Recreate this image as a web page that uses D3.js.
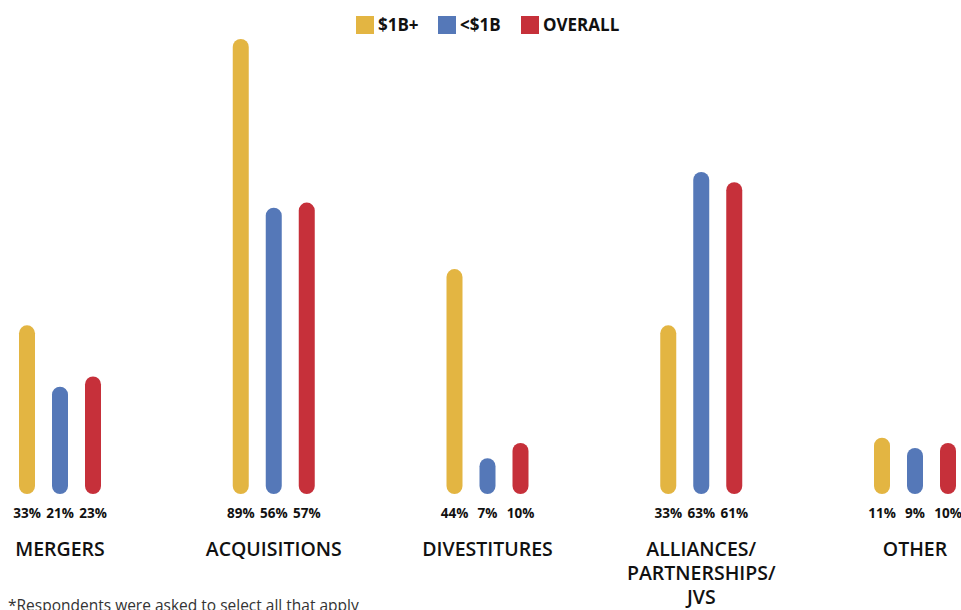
<!DOCTYPE html>
<html>
<head>
<meta charset="utf-8">
<script src="https://cdn.jsdelivr.net/npm/d3@7"></script>
<style>
  body { margin: 0; background: #fff; }
  svg { display: block; font-family: "Open Sans", "Noto Sans", sans-serif; }
</style>
</head>
<body>
<div id="chart"></div>
<script>
var categories = ["MERGERS", "ACQUISITIONS", "DIVESTITURES", "ALLIANCES/ PARTNERSHIPS/ JVS", "OTHER"];
var seriesNames = ["$1B+", "<$1B", "OVERALL"];
var bigCompanies = [33, 89, 44, 33, 11];
var smallCompanies = [21, 56, 7, 63, 9];
var overall = [23, 57, 10, 61, 10];
var colors = ["#e3b542", "#5578b8", "#c6303a"];
var footnote = "*Respondents were asked to select all that apply";

var width = 961, height = 610;
var baseY = 494;

var svg = d3.select("#chart").append("svg")
    .attr("width", width)
    .attr("height", height);

var series = [bigCompanies, smallCompanies, overall];
var data = categories.map(function(c, i) {
    return { cat: c, values: seriesNames.map(function(k, j) { return { key: k, value: series[j][i] }; }) };
});

var x0 = d3.scalePoint().domain(categories).range([60, 915]);
var x1 = d3.scalePoint().domain(seriesNames).range([-33, 33]);
var y = d3.scaleLinear().domain([0, 89]).range([baseY, 39]);
var z = d3.scaleOrdinal().domain(seriesNames).range(colors);

var barW = 16;

var groups = svg.selectAll("g.group")
    .data(data)
    .enter().append("g")
    .attr("class", "group")
    .attr("transform", function(d) { return "translate(" + x0(d.cat) + ",0)"; });

groups.selectAll("rect")
    .data(function(d) { return d.values; })
    .enter().append("rect")
    .attr("x", function(d) { return x1(d.key) - barW / 2; })
    .attr("y", function(d) { return y(d.value); })
    .attr("width", barW)
    .attr("height", function(d) { return baseY - y(d.value); })
    .attr("rx", barW / 2)
    .attr("fill", function(d) { return z(d.key); });

groups.selectAll("text.pct")
    .data(function(d) { return d.values; })
    .enter().append("text")
    .attr("class", "pct")
    .attr("x", function(d) { return x1(d.key); })
    .attr("y", 518)
    .attr("text-anchor", "middle")
    .attr("font-size", 13.5)
    .attr("font-weight", "bold")
    .attr("fill", "#111")
    .text(function(d) { return d.value + "%"; });

// category names, broken after slashes
groups.append("text")
    .attr("text-anchor", "middle")
    .attr("font-size", 19.5)
    .attr("font-weight", 600)
    .attr("fill", "#111")
    .selectAll("tspan")
    .data(function(d) { return d.cat.split(" "); })
    .enter().append("tspan")
    .attr("x", 0)
    .attr("y", function(d, i) { return 556 + i * 24; })
    .text(function(d) { return d; });

// legend
var legendX = [356, 438, 521];
var legend = svg.append("g")
    .selectAll("g")
    .data(seriesNames)
    .enter().append("g")
    .attr("transform", function(d, i) { return "translate(" + legendX[i] + ",16)"; });

legend.append("rect")
    .attr("width", 18)
    .attr("height", 18)
    .attr("fill", z);

legend.append("text")
    .attr("x", 22)
    .attr("y", 9)
    .attr("dy", "0.35em")
    .attr("font-size", 17)
    .attr("font-weight", "bold")
    .attr("fill", "#111")
    .text(function(d) { return d; });

svg.append("text")
    .attr("x", 8)
    .attr("y", 611)
    .attr("font-size", 15.5)
    .attr("fill", "#333")
    .text(footnote);
</script>
</body>
</html>
